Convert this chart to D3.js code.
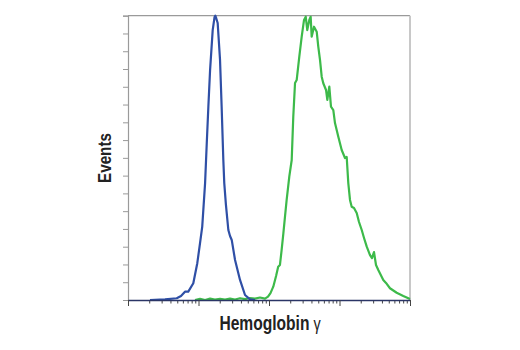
<!DOCTYPE html>
<html>
<head>
<meta charset="utf-8">
<script src="https://cdn.jsdelivr.net/npm/d3@7"></script>
<style>
  html, body { margin: 0; padding: 0; background: #fff; }
  svg { display: block; }
  .lbl { font-family: "Liberation Sans", Arial, Helvetica, sans-serif; font-weight: bold; fill: #222; }
</style>
</head>
<body>
<script>
// ---- data ----
const xMajorTicks = [1, 10, 100, 1000, 10000];
const yTicks = d3.range(0, 161, 10);

const blueIntensity = [2.05, 3.35, 4.91, 5.65, 6.43, 7.16, 8.44, 9.61, 10.5, 11.3, 12.4, 13.1, 13.8, 14.6, 15.9, 16.9, 17.3, 17.8, 18.7, 20.2, 21.3, 22.5, 23.2, 24.5, 26.5, 28.0, 29.6, 33.0, 38.8, 45.7, 53.8, 63.3];
const blueCounts    = [0, 0.3, 1.0, 2.3, 4.7, 4.7, 9.4, 20.7, 31.9, 41.3, 65.8, 88.4, 108.8, 129.4, 151.9, 159.3, 160, 158.7, 155.9, 135.1, 108.6, 78.8, 65.8, 53.5, 39.4, 36.0, 33.8, 22.5, 11.3, 2.8, 0.4, 0];

const greenIntensity = [8.92, 10.5, 12.4, 14.6, 17.1, 20.2, 23.8, 28.0, 33.0, 38.8, 45.7, 53.8, 63.3, 74.5, 87.7, 96.8, 105, 115, 126, 135, 143, 151, 160, 169, 178, 194, 210, 221, 234, 247, 269, 291, 314, 332, 349, 373, 390, 403, 435, 475, 500, 529, 559, 589, 644, 672, 717, 757, 817, 863, 962, 1074, 1197, 1265, 1333, 1409, 1489, 1606, 1754, 1891, 2067, 2228, 2434, 2709, 2891, 3084, 3295, 3550, 4178, 4567, 5200, 6473, 8035, 10000];
const greenCounts    = [0, 0.6, 0, 0.8, 0.3, 0.7, 0.2, 0.8, 0.3, 1.0, 0.5, 1.1, 0.8, 1.4, 0.8, 1.9, 3.9, 7.5, 13.5, 18.7, 19.7, 28.1, 37.7, 47.3, 56.3, 69.4, 78.8, 103.2, 122.1, 123.8, 136.9, 148.2, 157.6, 159.4, 151.9, 157.6, 159.4, 148.2, 153.8, 151.0, 142.6, 135.1, 125.7, 122.0, 118.2, 112.6, 120.1, 108.8, 106.9, 99.6, 91.9, 84.4, 79.9, 80.5, 65.8, 56.3, 52.5, 51.8, 49.0, 43.9, 39.4, 34.9, 30.0, 25.3, 23.6, 27.0, 19.7, 16.9, 11.3, 9.6, 6.6, 4.1, 2.3, 0.6];

const xLabel = "Hemoglobin";
const xLabelGreek = "γ";
const yLabel = "Events";

// ---- chart ----
const W = 520, H = 350;
const mLeft = 128, mRight = 410, mTop = 15.7, mBottom = 300;

const svg = d3.select("body").append("svg").attr("width", W).attr("height", H);

const x = d3.scaleLog().domain([1, 10000]).range([mLeft, mRight]);
const y = d3.scaleLinear().domain([0, 160]).range([mBottom, mTop]);

// frame top & right
svg.append("line").attr("x1", mLeft).attr("x2", mRight).attr("y1", mTop).attr("y2", mTop)
  .attr("stroke", "#9a9a9a").attr("stroke-width", 1.2);
svg.append("line").attr("x1", mRight).attr("x2", mRight).attr("y1", mTop).attr("y2", mBottom)
  .attr("stroke", "#c8c8c8").attr("stroke-width", 2);

// y axis
const yAxis = svg.append("g").attr("transform", `translate(${mLeft},0)`)
  .call(d3.axisLeft(y).tickValues(yTicks).tickSize(5).tickFormat(""));
yAxis.select(".domain").attr("stroke", "#9a9a9a").attr("stroke-width", 1.2);
yAxis.selectAll(".tick line").attr("stroke", "#9a9a9a").attr("stroke-width", 1);

// x axis minor ticks
const minorTicks = [];
for (let d = 1; d < 10000; d *= 10) for (let k = 2; k <= 9; k++) minorTicks.push(d * k);
const xMinor = svg.append("g").attr("transform", `translate(0,${mBottom})`)
  .call(d3.axisBottom(x).tickValues(minorTicks).tickSize(3.5).tickFormat(""));
xMinor.select(".domain").remove();
xMinor.selectAll(".tick line").attr("stroke", "#444").attr("stroke-width", 1);

// lines
const line = d3.line().x(d => x(d[0])).y(d => y(d[1]));
svg.append("path").datum(greenIntensity.map((v, i) => [v, greenCounts[i]]))
  .attr("d", line).attr("fill", "none").attr("stroke", "#3dba4a").attr("stroke-width", 2.2).attr("stroke-linejoin", "round");
svg.append("path").datum(blueIntensity.map((v, i) => [v, blueCounts[i]]))
  .attr("d", line).attr("fill", "none").attr("stroke", "#2f4fa6").attr("stroke-width", 2.2).attr("stroke-linejoin", "round");

// x axis major ticks + domain
const xMajor = svg.append("g").attr("transform", `translate(0,${mBottom})`)
  .call(d3.axisBottom(x).tickValues(xMajorTicks).tickSize(6).tickSizeOuter(0).tickFormat(""));
xMajor.select(".domain").attr("stroke", "#2b3566").attr("stroke-width", 1.4);
xMajor.selectAll(".tick line").attr("stroke", "#444").attr("stroke-width", 1);

// labels (condensed by horizontal scaling)
const xt = svg.append("g").attr("transform", "translate(270,330) scale(0.8,1)")
  .append("text").attr("class", "lbl").attr("text-anchor", "middle").style("font-size", "19.5px");
xt.append("tspan").text(xLabel);
xt.append("tspan").text(" " + xLabelGreek).style("font-weight", "normal").style("font-size", "18px");

svg.append("g").attr("transform", "translate(110.5,158) rotate(-90) scale(0.8,1)")
  .append("text").attr("class", "lbl")
  .attr("text-anchor", "middle").style("font-size", "19px").text(yLabel);
</script>
</body>
</html>
